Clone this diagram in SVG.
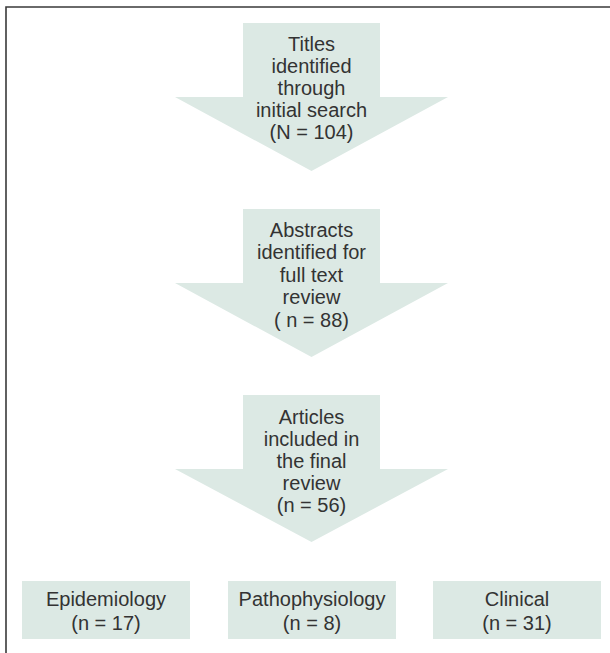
<svg xmlns="http://www.w3.org/2000/svg" width="610" height="653" viewBox="0 0 610 653">
<style>
.frame{stroke:#3a3a3a;stroke-width:1.6;fill:none}
.shape{fill:#dce9e4}
.t{font-family:"Liberation Sans",Arial,sans-serif;font-size:20px;fill:#333;text-anchor:middle}
</style>
<rect x="0" y="0" width="610" height="653" fill="#fff"/>
<path class="frame" d="M6,653 V7 H610"/>
<g id="step1">
<polygon class="shape" points="243,23 380,23 380,97 448,97 311.5,171 175,97 243,97"/>
<text class="t" x="311.5" y="51">Titles</text>
<text class="t" x="311.5" y="73">identified</text>
<text class="t" x="311.5" y="95">through</text>
<text class="t" x="311.5" y="117">initial search</text>
<text class="t" x="311.5" y="139">(N = 104)</text>
</g>
<g id="step2">
<polygon class="shape" points="243,209 380,209 380,283 448,283 311.5,357 175,283 243,283"/>
<text class="t" x="311.5" y="237">Abstracts</text>
<text class="t" x="311.5" y="259">identified for</text>
<text class="t" x="311.5" y="282">full text</text>
<text class="t" x="311.5" y="304">review</text>
<text class="t" x="311.5" y="327">( n = 88)</text>
</g>
<g id="step3">
<polygon class="shape" points="243,395 380,395 380,469 448,469 311.5,542 175,469 243,469"/>
<text class="t" x="311.5" y="424">Articles</text>
<text class="t" x="311.5" y="446">included in</text>
<text class="t" x="311.5" y="468">the final</text>
<text class="t" x="311.5" y="490">review</text>
<text class="t" x="311.5" y="512">(n = 56)</text>
</g>
<g id="epidemiology">
<rect class="shape" x="22" y="581" width="168" height="58"/>
<text class="t" x="106" y="606">Epidemiology</text>
<text class="t" x="106" y="630">(n = 17)</text>
</g>
<g id="pathophysiology">
<rect class="shape" x="228" y="581" width="168" height="58"/>
<text class="t" x="312" y="606">Pathophysiology</text>
<text class="t" x="312" y="630">(n = 8)</text>
</g>
<g id="clinical">
<rect class="shape" x="433" y="581" width="168" height="58"/>
<text class="t" x="517" y="606">Clinical</text>
<text class="t" x="517" y="630">(n = 31)</text>
</g>
<g id="connectors"></g>
</svg>
